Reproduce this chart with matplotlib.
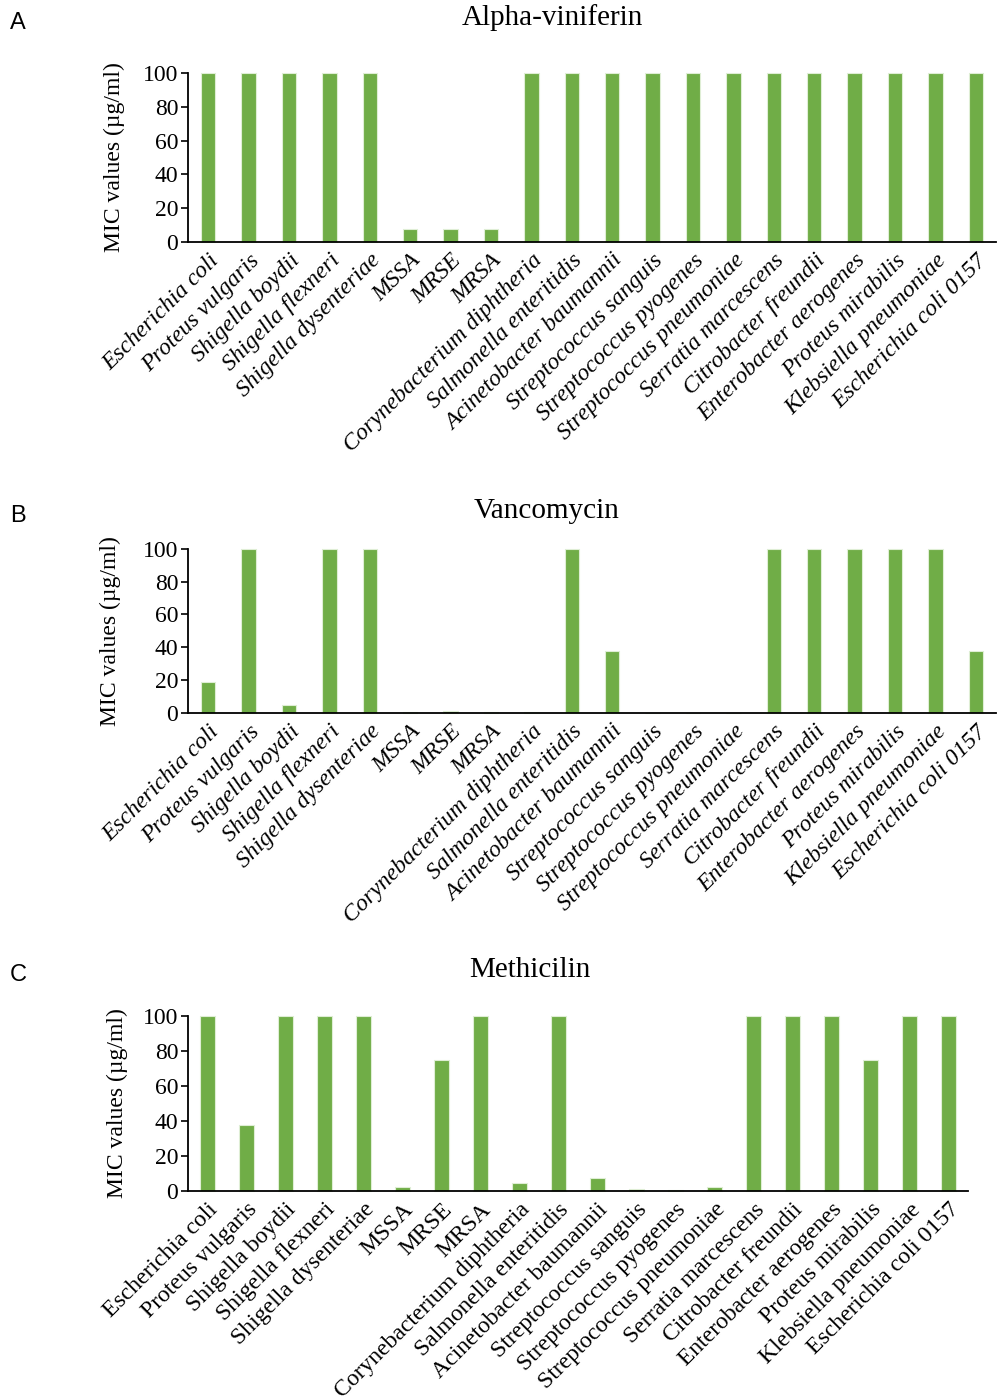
import matplotlib
matplotlib.use("Agg")
import matplotlib.pyplot as plt
import numpy as np

# bacteria names (same order in all three panels)
bacteria = ["Escherichia coli", "Proteus vulgaris", "Shigella boydii", "Shigella flexneri",
            "Shigella dysenteriae", "MSSA", "MRSE", "MRSA", "Corynebacterium diphtheria",
            "Salmonella enteritidis", "Acinetobacter baumannii", "Streptococcus sanguis",
            "Streptococcus pyogenes", "Streptococcus pneumoniae", "Serratia marcescens",
            "Citrobacter freundii", "Enterobacter aerogenes", "Proteus mirabilis",
            "Klebsiella pneumoniae", "Escherichia coli 0157"]

# MIC values (ug/ml)
alpha_viniferin = [100, 100, 100, 100, 100, 7.8, 7.8, 7.8, 100, 100,
                   100, 100, 100, 100, 100, 100, 100, 100, 100, 100]
vancomycin = [18.75, 100, 4.69, 100, 100, 0.3, 1.17, 0.3, 0.3, 100,
              37.5, 0, 0, 0, 100, 100, 100, 100, 100, 37.5]
methicilin = [100, 37.5, 100, 100, 100, 1.95, 75, 100, 4.4, 100,
              7.5, 0.9, 0.3, 1.95, 100, 100, 100, 75, 100, 100]

W, H = 997, 1400
groen = "#70AD47"
serif = "Liberation Serif"

fig = plt.figure(figsize=(W/100, H/100), dpi=100)

# (title, values, axes box in pixels [left, top, right, bottom], letter, title pos, italic labels, ylabel x)
panels = [
    ("Alpha-viniferin", alpha_viniferin, (188, 73.3, 996, 241.7), "A", (552, 18), True, 125),
    ("Vancomycin", vancomycin, (188, 549, 996, 712.7), "B", (547, 511), True, 121),
    ("Methicilin", methicilin, (188, 1016, 968, 1190.7), "C", (530, 970), False, 128),
]

for titel, waarden, box, letter, tpos, schuin, ylab_x in panels:
    l, t, r, b = box
    ax = fig.add_axes([l/W, 1-b/H, (r-l)/W, (b-t)/H])
    x = np.arange(len(bacteria))
    ax.bar(x, waarden, width=0.36, color=groen, edgecolor="#dfeed5", linewidth=0.8, clip_on=False)
    ax.set_xlim(-0.5, len(bacteria)-0.5)
    ax.set_ylim(0, 100)
    ax.set_yticks([0, 20, 40, 60, 80, 100])
    for s in ["top", "right"]:
        ax.spines[s].set_visible(False)
    ax.spines["left"].set_linewidth(1.3)
    ax.spines["bottom"].set_linewidth(1.3)
    ax.tick_params(axis="y", length=5, width=1.2, labelsize=17, pad=2)
    ax.tick_params(axis="x", length=0, pad=6)
    for lab in ax.get_yticklabels():
        lab.set_fontfamily(serif)
    ax.set_xticks(x)
    ax.set_xticklabels(bacteria, rotation=45, ha="right", va="top", rotation_mode="anchor",
                       fontsize=17, fontfamily=serif, fontstyle="italic" if schuin else "normal")
    ax.set_ylabel("MIC values (µg/ml)", fontsize=17, fontfamily=serif)
    ax.yaxis.set_label_coords(ylab_x/W, 1-(t+b)/2/H, transform=fig.transFigure)
    fig.text(tpos[0]/W, 1-tpos[1]/H, titel, ha="center", va="center", fontsize=21, fontfamily=serif)
    fig.text(18/W, 1-(tpos[1]+5)/H, letter, ha="center", va="center", fontsize=17,
             fontfamily="Liberation Sans")

fig.savefig("out.png", dpi=100)
